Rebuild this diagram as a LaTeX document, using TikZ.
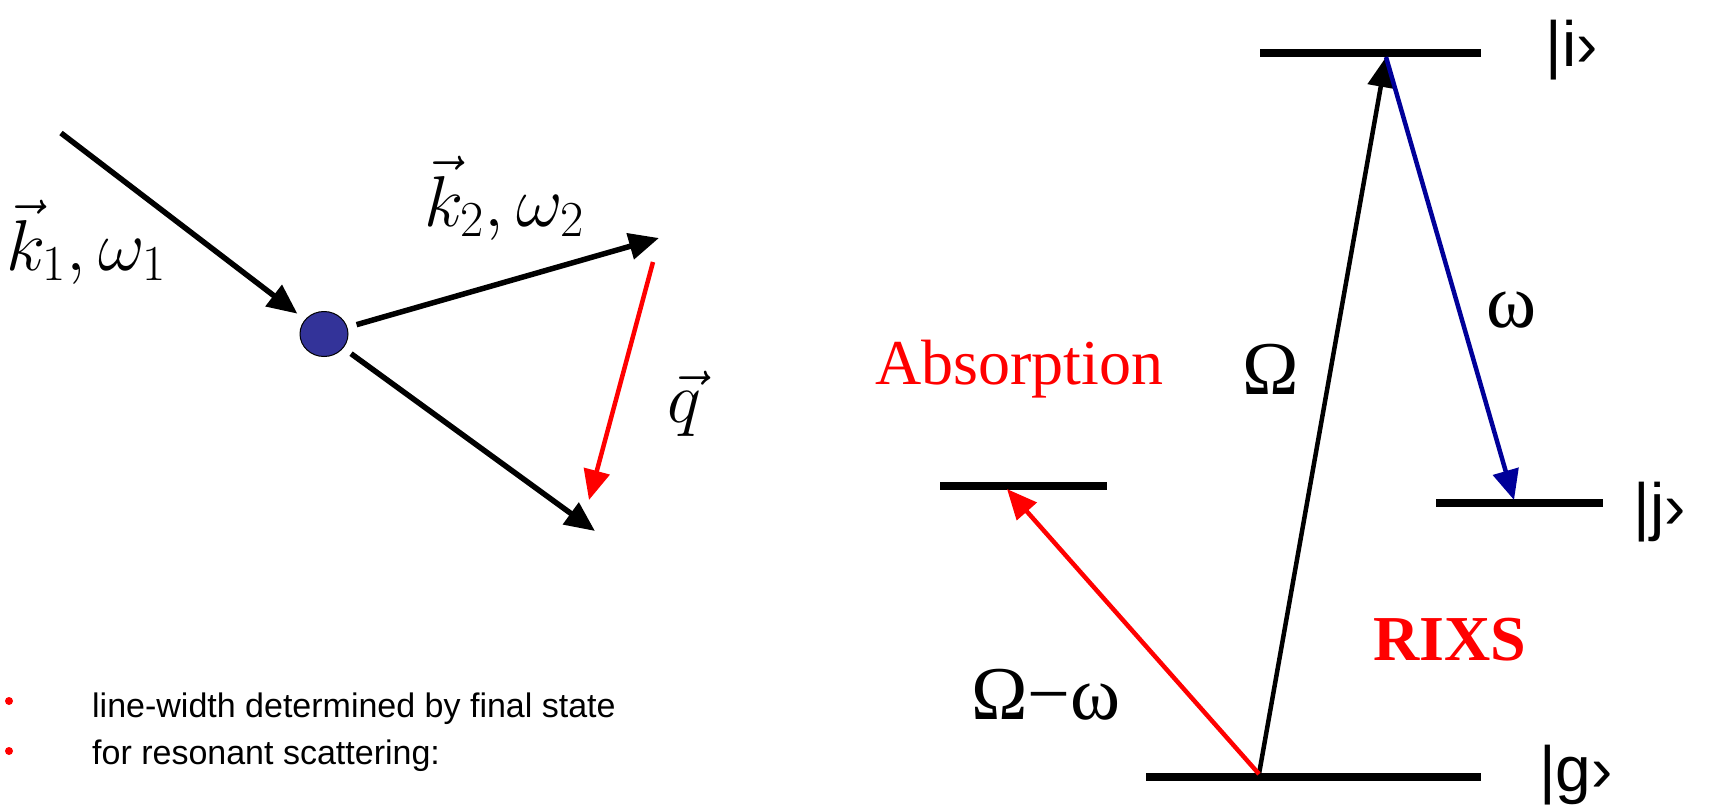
\RequirePackage{fix-cm}
\documentclass[tikz,border=0pt]{standalone}
\usepackage{fontspec}
\setmainfont{Liberation Serif}
\newfontfamily\handfont{Liberation Sans}
\usetikzlibrary{arrows.meta, shapes.geometric}
\definecolor{rixsRed}{HTML}{FF0000}
\definecolor{emitBlue}{HTML}{000099}
\definecolor{atomBlue}{HTML}{333399}

\begin{document}
\begin{tikzpicture}[x=1pt, y=-1pt,
    ray/.style={line width=5.5pt, -{Triangle[length=30pt, width=26pt]}},
    level/.style={line width=8pt},
    atom/.style={ellipse, fill=atomBlue, draw=black, line width=1pt,
                 minimum width=48pt, minimum height=45pt, inner sep=0pt, outer sep=10pt},
    mathlab/.style={font=\fontsize{72}{80}\selectfont},
    greek/.style={font=\fontsize{76}{80}\selectfont},
    ket/.style={font=\handfont\fontsize{64}{70}\selectfont},
    note/.style={font=\handfont\fontsize{34}{40}\selectfont, anchor=base west, inner sep=0pt},
    dotmark/.style={circle, fill=rixsRed, minimum size=8pt, inner sep=0pt}]
  \useasboundingbox (0,0) rectangle (1736,809);

  % scattering geometry
  \coordinate (kin) at (61,133);
  \node[atom] (atom) at (324,334) {};
  \coordinate (kout) at (659,238);
  \coordinate (kfar) at (595,531);
  \coordinate (qtop) at (653,262);
  \coordinate (qbot) at (589,500);
  \draw[ray] (kin) -- (atom);
  \draw[ray] (atom) -- (kout);
  \draw[ray] (atom) -- (kfar);
  \draw[ray, rixsRed, line width=4.5pt] (qtop) -- (qbot);
  \node[mathlab] (k1lab) at (86,242) {$\vec{k}_1{,}\,\omega_1$};
  \node[mathlab] (k2lab) at (504,198) {$\vec{k}_2{,}\,\omega_2$};
  \node[mathlab] (qlab) at (684,404) {$\vec{q}$};

  % notes
  \node[dotmark] (b1) at (9,701) {};
  \node[dotmark] (b2) at (9,751) {};
  \node[note] (n1) at (92,717) {line-width determined by final state};
  \node[note] (n2) at (92,764) {for resonant scattering:};

  % energy levels
  \coordinate (iL) at (1260,53);  \coordinate (iR) at (1481,53);
  \coordinate (jL) at (1436,503); \coordinate (jR) at (1603,503);
  \coordinate (gL) at (1146,777); \coordinate (gR) at (1481,777);
  \coordinate (aL) at (940,486);  \coordinate (aR) at (1107,486);
  \draw[level] (iL) -- (iR);
  \draw[level] (jL) -- (jR);
  \draw[level] (gL) -- (gR);
  \draw[level] (aL) -- (aR);

  % transitions
  \coordinate (gO) at (1259,774);
  \coordinate (iO) at (1386,57);
  \coordinate (jO) at (1514,500);
  \coordinate (aO) at (1007,489);
  \draw[ray, line width=4.5pt] (gO) -- (iO);
  \draw[ray, emitBlue, line width=4.5pt] (iO) -- (jO);
  \draw[ray, rixsRed, line width=4.5pt] (gO) -- (aO);

  \node[text=rixsRed, font=\fontsize{64}{72}\selectfont] (abs) at (1019,369) {Absorption};
  \node[greek] (bigom) at (1271,369) {Ω};
  \node[greek] (smom) at (1511,310) {ω};
  \node[text=rixsRed, font=\bfseries\fontsize{64}{72}\selectfont] (rixs) at (1450,640) {RIXS};
  \node[greek] (diff) at (1046,695) {Ω−ω};
  \node[ket] (keti) at (1572,50) {|i›};
  \node[ket] (ketj) at (1660,512) {|j›};
  \node[ket] (ketg) at (1576,775) {|g›};
\end{tikzpicture}
\end{document}
